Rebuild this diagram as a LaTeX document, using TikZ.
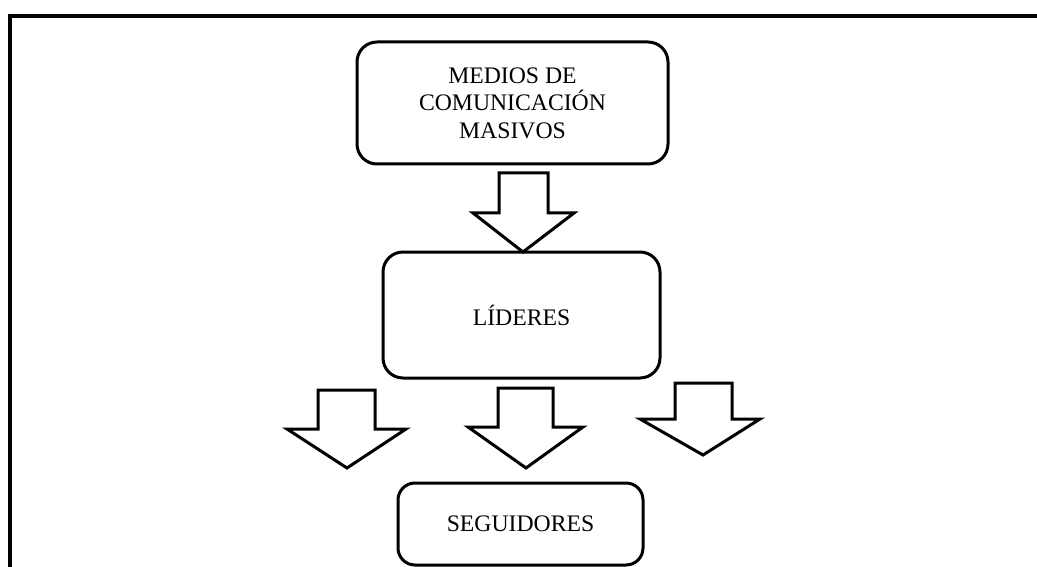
\documentclass[tikz,border=0pt]{standalone}
\usepackage{fontspec}
\setmainfont{Liberation Serif}
\begin{document}
\begin{tikzpicture}[x=1pt,y=-1pt,
  boxstyle/.style={draw=black,line width=3pt,rounded corners=20pt,align=center,
    font=\fontsize{23.7}{27.5}\selectfont,inner sep=0pt},
  blockarrow/.style={draw=black,line width=3pt,fill=white,line join=miter}]
\useasboundingbox (0,0) rectangle (1037,567);
\draw[line width=4pt,line join=miter] (9.5,567) -- (9.5,16) -- (1037,16);
\node[boxstyle,minimum width=311pt,minimum height=122pt] (medios) at (512.5,103)
  {MEDIOS DE\\COMUNICACIÓN\\MASIVOS};
\node[boxstyle,minimum width=277pt,minimum height=126pt] (lideres) at (521.5,315) {LÍDERES};
\node[boxstyle,rounded corners=17pt,minimum width=245pt,minimum height=82pt] (seguidores) at (520.5,524) {SEGUIDORES};
% top arrow
\draw[blockarrow] (499,173) -- (548,173) -- (548,213) -- (574,213) -- (523,252) -- (473,213) -- (499,213) -- cycle;
% bottom arrows
\draw[blockarrow] (318,390) -- (375,390) -- (375,429) -- (406,429) -- (347,468) -- (287,429) -- (318,429) -- cycle;
\draw[blockarrow] (498,388) -- (553,388) -- (553,427) -- (583,427) -- (526,468) -- (468,427) -- (498,427) -- cycle;
\draw[blockarrow] (675,383) -- (732,383) -- (732,419) -- (760,419) -- (703,455) -- (640,419) -- (675,419) -- cycle;
\end{tikzpicture}
\end{document}
